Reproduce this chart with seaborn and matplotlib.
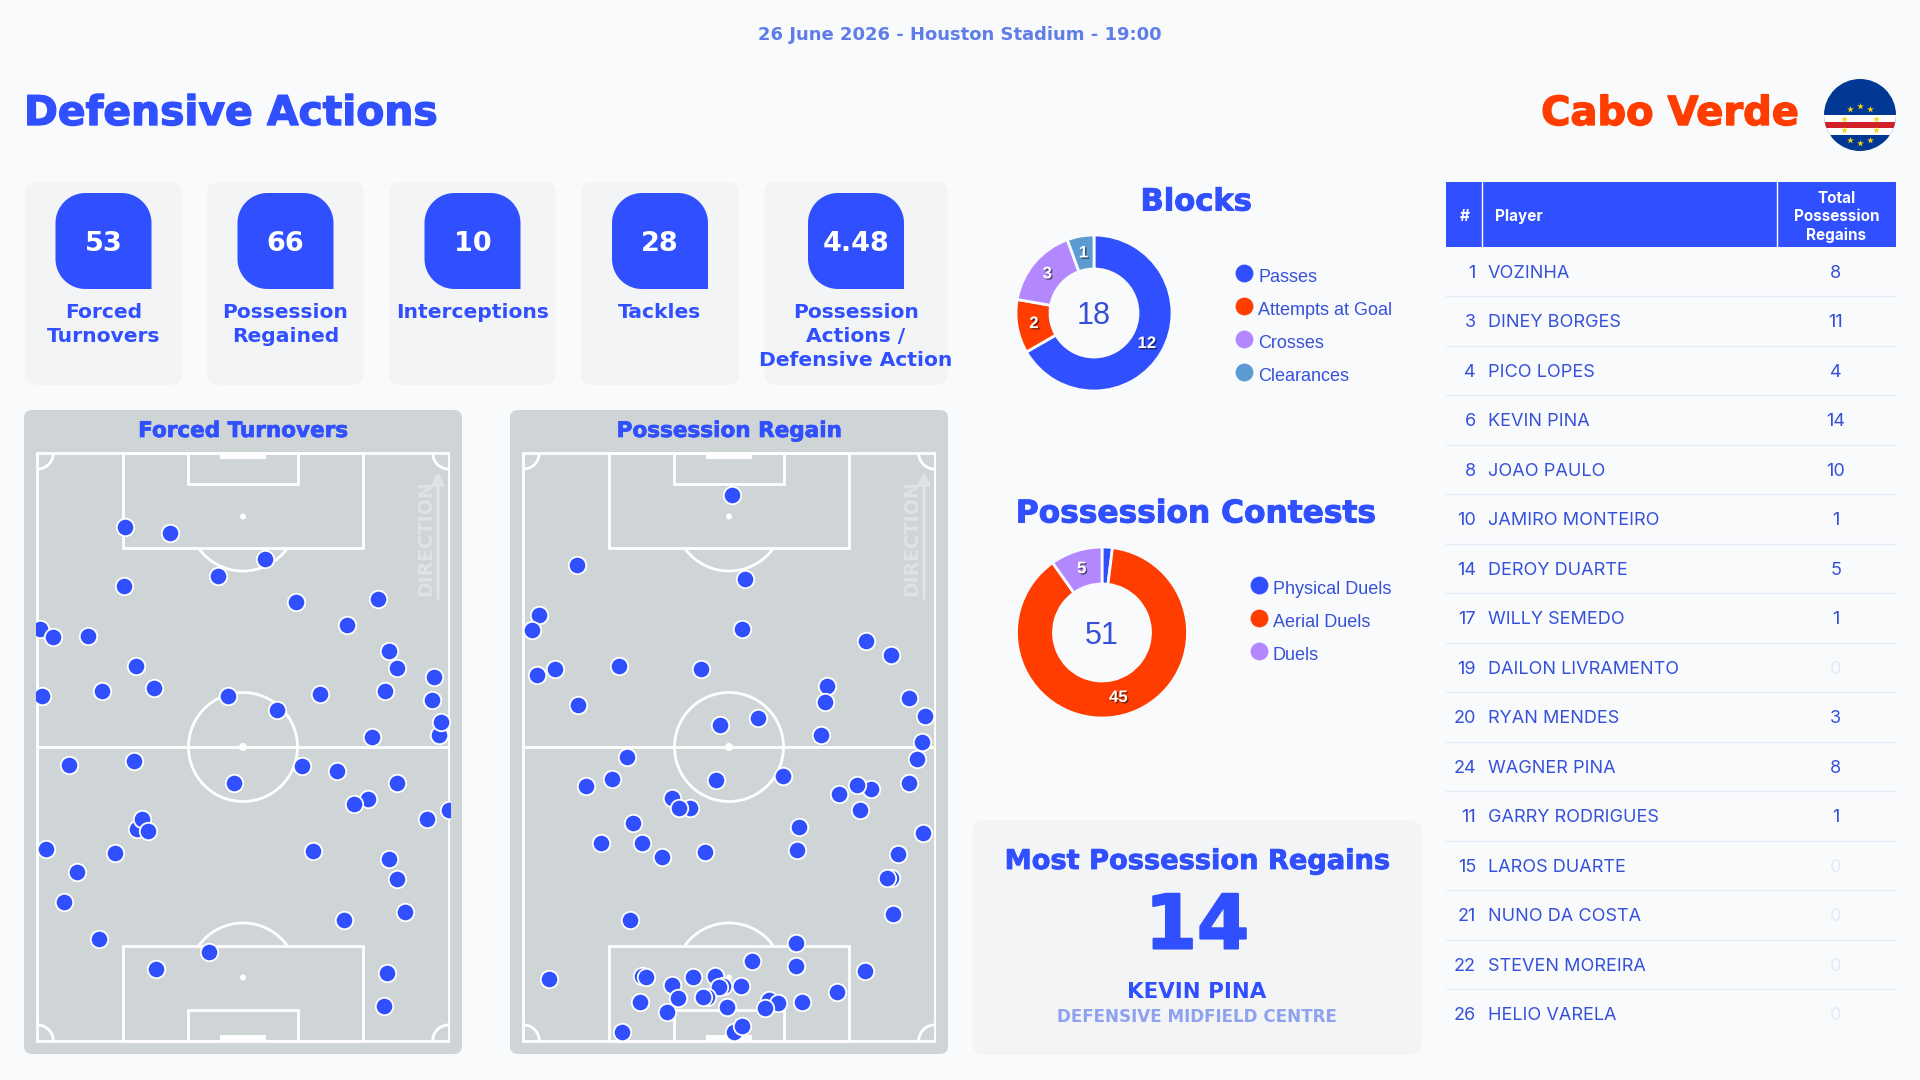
import matplotlib
matplotlib.use("Agg")
import matplotlib.pyplot as plt
import matplotlib.patheffects as pe
from matplotlib.patches import FancyBboxPatch, PathPatch, Rectangle, Circle, Ellipse, Arc
from matplotlib.path import Path
import numpy as np
import pandas as pd
import seaborn as sns

BG = "#f9fafb"
CARD = "#f3f4f6"
PITCH = "#cfd5d7"
BLUE = "#304ffe"
ORANGE = "#ff3d00"
PURPLE = "#b388ff"
STEEL = "#5c9bd1"
TEXT = "#3651d9"
PALE = "#8fa2f0"
DISPLAY = "DejaVu Sans"

date_line = "26 June 2026 - Houston Stadium - 19:00"
stat_values = ["53", "66", "10", "28", "4.48"]
stat_labels = ["Forced\nTurnovers", "Possession\nRegained", "Interceptions", "Tackles",
               "Possession\nActions /\nDefensive Action"]

block_names = ["Passes", "Attempts at Goal", "Crosses", "Clearances"]
block_values = [12, 2, 3, 1]
contest_names = ["Physical Duels", "Aerial Duels", "Duels"]
contest_values = [1, 45, 5]

shirt_numbers = [1, 3, 4, 6, 8, 10, 14, 17, 19, 20, 24, 11, 15, 21, 22, 26]
player_names = ["VOZINHA", "DINEY BORGES", "PICO LOPES", "KEVIN PINA", "JOAO PAULO", "JAMIRO MONTEIRO",
                "DEROY DUARTE", "WILLY SEMEDO", "DAILON LIVRAMENTO", "RYAN MENDES", "WAGNER PINA",
                "GARRY RODRIGUES", "LAROS DUARTE", "NUNO DA COSTA", "STEVEN MOREIRA", "HELIO VARELA"]
player_regains = [8, 11, 4, 14, 10, 1, 5, 1, 0, 3, 8, 1, 0, 0, 0, 0]

# pitch locations in percent of width and length, measured from the top left corner
forced_x = [21.3, 32.3, 55.4, 44.0, 21.1, 63.0, 82.8, 75.2, 0.6, 3.7, 12.3, 85.6, 87.4, 96.5, 24.1, 28.4, 15.7, 1.2,
            46.4, 68.8, 84.6, 96.0, 58.2, 97.7, 98.2, 81.4, 7.7, 23.5, 64.3, 72.9, 47.7, 87.4, 80.4, 77.1, 100.0,
            24.2, 25.5, 26.9, 94.7, 2.0, 19.0, 67.1, 85.6, 9.6, 87.5, 6.6, 89.5, 74.6, 14.9, 41.7, 28.9, 85.0, 84.2]
forced_y = [12.5, 13.6, 18.1, 20.9, 22.6, 25.3, 24.9, 29.3, 29.9, 31.3, 31.1, 33.6, 36.6, 38.1, 36.2, 40.0, 40.4, 41.4,
            41.4, 40.9, 40.4, 42.0, 43.7, 48.0, 45.7, 48.3, 53.0, 52.3, 53.2, 54.1, 56.1, 56.2, 58.8, 59.7, 60.7,
            64.0, 62.2, 64.3, 62.3, 67.4, 68.0, 67.7, 69.1, 71.2, 72.5, 76.4, 78.0, 79.4, 82.7, 84.9, 87.8, 88.5, 94.0]
regain_x = [50.7, 13.1, 54.0, 3.9, 2.0, 53.1, 83.2, 89.5, 23.3, 43.2, 7.6, 3.4, 73.8, 73.3, 13.4, 93.8, 97.7, 57.1,
            47.7, 72.4, 97.0, 25.2, 95.8, 21.5, 15.2, 46.8, 63.1, 93.8, 84.4, 81.0, 76.7, 81.8, 36.2, 40.5, 37.8,
            26.7, 66.9, 97.2, 18.8, 28.8, 33.8, 44.1, 66.5, 91.2, 89.5, 88.4, 89.8, 26.0, 66.4, 55.7, 66.3, 83.1,
            6.2, 28.8, 29.8, 41.2, 46.7, 48.6, 47.6, 36.1, 52.9, 37.5, 28.4, 44.6, 43.6, 49.5, 35.0, 59.8, 61.8,
            58.8, 67.7, 76.2, 24.1, 51.3, 53.1]
regain_y = [7.1, 19.0, 21.4, 27.5, 30.1, 30.0, 32.0, 34.4, 36.2, 36.7, 36.8, 37.8, 39.7, 42.3, 42.8, 41.7, 44.8, 45.1,
            46.3, 47.9, 49.2, 51.7, 52.1, 55.5, 56.6, 55.6, 54.9, 56.1, 57.2, 56.5, 58.0, 60.8, 58.6, 60.3, 60.3,
            62.9, 63.6, 64.7, 66.4, 66.4, 68.7, 67.9, 67.6, 68.2, 72.3, 72.2, 78.4, 79.4, 83.3, 86.4, 87.2, 88.1,
            89.5, 88.9, 89.1, 89.2, 88.9, 90.7, 90.9, 90.4, 90.6, 92.7, 93.4, 92.6, 92.6, 94.2, 95.1, 93.1, 93.5,
            94.4, 93.3, 91.7, 98.5, 98.4, 97.4]

W, H = 1920, 1080
sns.set_theme(style="white")
plt.rcParams["font.family"] = ["Liberation Sans", "DejaVu Sans"]

fig = plt.figure(figsize=(W / 100, H / 100), dpi=100, facecolor=BG)
page = fig.add_axes([0, 0, 1, 1])
page.set_xlim(0, W)
page.set_ylim(H, 0)
page.axis("off")


def px_axes(x0, y0, x1, y1):
    ax = fig.add_axes([x0 / W, 1 - y1 / H, (x1 - x0) / W, (y1 - y0) / H])
    ax.patch.set_alpha(0)
    return ax


def heavy(stroke=0.7, color=BLUE):
    return [pe.withStroke(linewidth=stroke, foreground=color)]


def rounded(x0, y0, x1, y1, radius, color, zorder=1):
    page.add_patch(FancyBboxPatch((x0 + radius, y0 + radius), x1 - x0 - 2 * radius, y1 - y0 - 2 * radius,
                                  boxstyle=f"round,pad={radius},rounding_size={radius}",
                                  fc=color, ec="none", zorder=zorder))


def stat_tile(x0, y0, x1, y1, r):
    # three rounded corners, the bottom right one stays square
    t = np.linspace(0, np.pi / 2, 16)
    verts = []
    verts += list(zip(x0 + r - r * np.cos(t), y0 + r - r * np.sin(t)))
    verts += list(zip(x1 - r + r * np.sin(t), y0 + r - r * np.cos(t)))
    verts.append((x1, y1))
    verts += list(zip(x0 + r - r * np.sin(t), y1 - r + r * np.cos(t)))
    verts.append(verts[0])
    page.add_patch(PathPatch(Path(verts, closed=True), fc=BLUE, ec="none", zorder=2))


# header
page.text(960, 34.5, date_line, color="#5f7de9", fontsize=13, family=DISPLAY, weight="bold", ha="center", va="center")
page.text(24, 114, "Defensive Actions", color=BLUE, fontsize=29.4, family=DISPLAY, weight="bold", va="center",
          path_effects=heavy(1.0))
page.text(1799, 114, "Cabo Verde", color=ORANGE, fontsize=28.8, family=DISPLAY, weight="bold", ha="right", va="center",
          path_effects=heavy(1.0, ORANGE))

# flag
flag = px_axes(1824, 79, 1896, 151)
flag.set_xlim(-1, 1)
flag.set_ylim(-1, 1)
flag.axis("off")
clip = Circle((0, 0), 1, transform=flag.transData)
for y0, h, col in [(-1, 2, "#003893"), (-0.55, 0.54, "#ffffff"), (-0.36, 0.17, "#cf2027")]:
    stripe = flag.add_patch(Rectangle((-1, y0), 2, h, fc=col, ec="none"))
    stripe.set_clip_path(clip)
star_angles = np.deg2rad(np.arange(0, 360, 36))
flag.scatter(0.48 * np.sin(star_angles), -0.265 + 0.525 * np.cos(star_angles), marker="*", s=26,
             color="#f7d116", linewidths=0, zorder=3)

# stat cards
card_edges = [(25, 182), (207, 364), (389, 556), (581, 739), (764, 948)]
for (x0, x1), value, label in zip(card_edges, stat_values, stat_labels):
    mid = (x0 + x1) / 2
    rounded(x0, 182, x1, 385, 12, CARD)
    stat_tile(mid - 48, 193, mid + 48, 289, 30)
    page.text(mid, 244, value, color="white", fontsize=19.5, family=DISPLAY, weight="bold", ha="center", va="center",
              zorder=3)
    for i, line in enumerate(label.split("\n")):
        page.text(mid, 313 + i * 24, line, color=BLUE, fontsize=14.6, family=DISPLAY, weight="bold", ha="center",
                  va="center", zorder=3)


def draw_pitch(left, title, xs, ys):
    rounded(left, 410, left + 438, 1054, 8, PITCH)
    page.text(left + 219, 431, title, color=BLUE, fontsize=15.5, family=DISPLAY, weight="bold", ha="center",
              va="center", path_effects=heavy(0.5))
    ax = px_axes(left + 12, 451, left + 426, 1043)
    ax.set_xlim(-0.32, 100.32)
    ax.set_ylim(100.35, -0.35)
    ax.axis("off")
    sx, sy = 411.4 / 100, 588 / 100
    lw = 2.0
    line = dict(ec="white", fc="none", lw=lw, zorder=2)
    ax.add_patch(Rectangle((0, 0), 100, 100, **line))
    ax.plot([0, 100], [50, 50], color="white", lw=lw, zorder=2)
    ax.add_patch(Ellipse((50, 50), 109 / sx, 109 / sy, **line))
    ax.add_patch(Ellipse((50, 50), 8 / sx, 8 / sy, fc="white", ec="none", zorder=2))
    for flip in (False, True):
        fy = (lambda v: 100 - v) if flip else (lambda v: v)
        ax.add_patch(Rectangle((20.9, min(fy(0), fy(16.2))), 58.2, 16.2, **line))
        ax.add_patch(Rectangle((36.7, min(fy(0), fy(5.2))), 26.6, 5.2, **line))
        ax.add_patch(Rectangle((44.4, min(fy(0), fy(1.0))), 11.2, 1.0, fc="white", ec="none", zorder=2))
        ax.add_patch(Ellipse((50, fy(10.8)), 6 / sx, 6 / sy, fc="white", ec="none", zorder=2))
        theta = (27, 153) if not flip else (207, 333)
        ax.add_patch(Arc((50, fy(10.8)), 109 / sx, 109 / sy, theta1=theta[0], theta2=theta[1], ec="white", lw=lw,
                         zorder=2))
        for cx, t in [(0, 0 if not flip else 270), (100, 90 if not flip else 180)]:
            ax.add_patch(Arc((cx, fy(0)), 32 / sx, 32 / sy, theta1=t, theta2=t + 90, ec="white", lw=lw, zorder=2))
    ax.text(94.5, 14.4, "DIRECTION", rotation=90, color="#dfe3e4", fontsize=13.6, family=DISPLAY, weight="bold",
            ha="center", va="center", zorder=2)
    ax.annotate("", xy=(97.4, 3.2), xytext=(97.4, 24.8),
                arrowprops=dict(arrowstyle="-|>,head_width=0.3,head_length=0.6", color="#dfe3e4", lw=2.3, shrinkA=0,
                                shrinkB=0), zorder=2)
    df = pd.DataFrame({"x": xs, "y": ys})
    sns.scatterplot(data=df, x="x", y="y", ax=ax, color=BLUE, s=158, edgecolor="white", linewidth=1.3, zorder=5,
                    legend=False)
    ax.set_xlabel("")
    ax.set_ylabel("")


draw_pitch(24, "Forced Turnovers", forced_x, forced_y)
draw_pitch(510, "Possession Regain", regain_x, regain_y)


def draw_donut(cx, cy, r, inner, values, colors, title, title_y, title_size, names, lx, ly):
    page.text(1196, title_y, title, color=BLUE, fontsize=title_size, family=DISPLAY, weight="bold", ha="center",
              va="center", path_effects=heavy(0.7))
    half = r * 1.02
    ax = px_axes(cx - half, cy - half, cx + half, cy + half)
    total = sum(values)
    width = 1 - inner / r
    _, _, auto = ax.pie(values, colors=colors, startangle=90, counterclock=False, radius=1,
                        wedgeprops=dict(width=width, edgecolor=BG, linewidth=2.0),
                        autopct=lambda p: f"{p * total / 100:.0f}" if p > 3 else "", pctdistance=1 - width / 2,
                        textprops=dict(color="white", fontsize=12, weight="bold"))
    for t in auto:
        t.set_path_effects([pe.SimplePatchShadow(offset=(1, -1), shadow_rgbFace="#000000", alpha=0.5), pe.Normal()])
    ax.set_xlim(-1.02, 1.02)
    ax.set_ylim(-1.02, 1.02)
    page.text(cx, cy, str(total), color=TEXT, fontsize=22, ha="center", va="center_baseline")
    for i, name in enumerate(names):
        page.scatter(lx - 1, ly + i * 33, s=165, color=colors[i], linewidths=0, zorder=2)
        page.text(lx + 13, ly + 4.3 + i * 33, name, color=TEXT, fontsize=13, va="center")


draw_donut(1094, 313, 78, 44, block_values, [BLUE, ORANGE, PURPLE, STEEL], "Blocks", 202, 22, block_names, 1245, 273)
draw_donut(1102, 632.5, 85.5, 48.5, contest_values, [BLUE, ORANGE, PURPLE], "Possession Contests", 514, 22.5,
           contest_names, 1260, 585)

# top regainer card
top = int(np.argmax(player_regains))
rounded(972, 820, 1422, 1055, 14, CARD)
page.text(1197, 862, "Most Possession Regains", color=BLUE, fontsize=19.6, family=DISPLAY, weight="bold", ha="center",
          va="center", path_effects=heavy(0.6))
page.text(1197, 928, str(player_regains[top]), color=BLUE, fontsize=54, family=DISPLAY, weight="bold", ha="center",
          va="center", path_effects=heavy(1.5))
page.text(1197, 992, player_names[top], color=BLUE, fontsize=15.4, family=DISPLAY, weight="bold", ha="center",
          va="center")
page.text(1197, 1017.5, "DEFENSIVE MIDFIELD CENTRE", color=PALE, fontsize=12.1, family=DISPLAY, weight="bold",
          ha="center", va="center")

# squad table
page.add_patch(Rectangle((1446, 182), 450, 65, fc=BLUE, ec="none"))
page.plot([1482.3, 1482.3], [182, 247], color="white", lw=1)
page.plot([1776.7, 1776.7], [182, 247], color="white", lw=1)
page.text(1465, 216.7, "#", color="white", family="Inter", weight="bold", fontsize=11, ha="center", va="center")
page.text(1495, 216.7, "Player", color="white", family="Inter", weight="bold", fontsize=11, va="center")
for i, word in enumerate(["Total", "Possession", "Regains"]):
    page.text(1836.5, 198.9 + i * 18, word, color="white", family="Inter", weight="bold", fontsize=11, ha="center",
              va="center")
for i, (num, name, val) in enumerate(zip(shirt_numbers, player_names, player_regains)):
    y = 273.3 + i * 49.5
    page.text(1476, y, str(num), color=TEXT, family="Inter", fontsize=13, ha="right", va="center")
    page.text(1487.7, y, name, color=TEXT, family="Inter", fontsize=13, va="center")
    page.text(1835.5, y, str(val), color=TEXT if val else "#e4e9fb", family="Inter", fontsize=13, ha="center",
              va="center")
    if i < 15:
        page.plot([1446, 1896], [296.2 + i * 49.5, 296.2 + i * 49.5], color="#e8ebf7", lw=1)

page.set_xlim(0, W)
page.set_ylim(H, 0)
fig.savefig("out.png", dpi=100, facecolor=BG)
